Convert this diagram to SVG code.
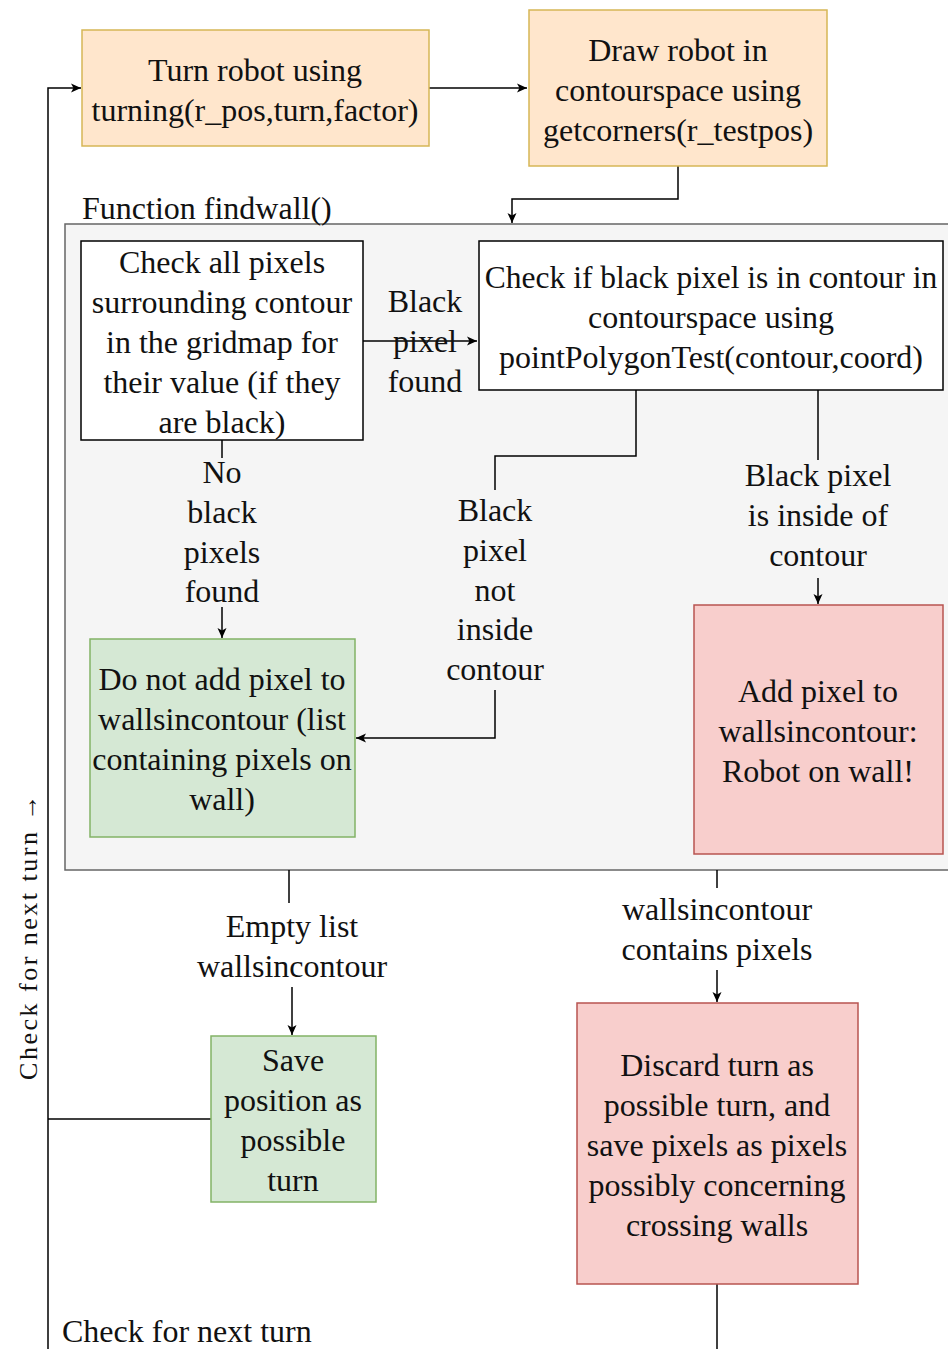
<svg xmlns="http://www.w3.org/2000/svg" width="948" height="1349" viewBox="0 0 948 1349">
<style>
text{font-family:"Liberation Serif","DejaVu Serif",serif;font-size:32px;fill:#111;text-anchor:middle}
.l{text-anchor:start}
.c{fill:none;stroke:#000;stroke-width:1.5}
.orange{fill:#ffe6cc;stroke:#d6b656;stroke-width:1.5}
.green{fill:#d5e8d4;stroke:#82b366;stroke-width:1.5}
.red{fill:#f8cecc;stroke:#b85450;stroke-width:1.5}
.white{fill:#fff;stroke:#000;stroke-width:1.5}
</style>
<defs>
<marker id="a" markerWidth="12" markerHeight="12" refX="11" refY="6" orient="auto" markerUnits="userSpaceOnUse">
<path d="M1,1.5 L11,6 L1,10.5 L3.5,6 Z" fill="#000"/>
</marker>
</defs>
<g id="container">
<rect x="65" y="224" width="890" height="646" fill="#f5f5f5" stroke="#666" stroke-width="1.5"/>
<text class="l" x="82" y="219">Function findwall()</text>
</g>
<g id="connectors">
<path class="c" d="M429,88 H527" stroke="#555" marker-end="url(#a)"/>
<path class="c" d="M678,166 V199 H512 V223" marker-end="url(#a)"/>
<path class="c" d="M363,341 H477" marker-end="url(#a)"/>
<path class="c" d="M222,440 V458"/>
<path class="c" d="M222,607 V638" marker-end="url(#a)"/>
<path class="c" d="M636,390 V456 H495 V490"/>
<path class="c" d="M495,690 V738 H356" marker-end="url(#a)"/>
<path class="c" d="M818,390 V460"/>
<path class="c" d="M818,578 V604" marker-end="url(#a)"/>
<path class="c" d="M289,870 V903"/>
<path class="c" d="M292,987 V1035" marker-end="url(#a)"/>
<path class="c" d="M717,870 V888"/>
<path class="c" d="M717,970 V1002" marker-end="url(#a)"/>
<path class="c" d="M211,1119 H48"/>
<path class="c" d="M48,1349 V88 H81" marker-end="url(#a)"/>
<path class="c" d="M717,1284 V1349"/>
</g>
<g id="labels">
<text x="425" y="312">Black</text>
<text x="425" y="352">pixel</text>
<text x="425" y="392">found</text>
<text x="222" y="483">No</text>
<text x="222" y="523">black</text>
<text x="222" y="563">pixels</text>
<text x="222" y="602">found</text>
<text x="495" y="521">Black</text>
<text x="495" y="561">pixel</text>
<text x="495" y="601">not</text>
<text x="495" y="640">inside</text>
<text x="495" y="680">contour</text>
<text x="818" y="486">Black pixel</text>
<text x="818" y="526">is inside of</text>
<text x="818" y="566">contour</text>
<text x="292" y="937">Empty list</text>
<text x="292" y="977">wallsincontour</text>
<text x="717" y="920">wallsincontour</text>
<text x="717" y="960">contains pixels</text>
<text transform="translate(37,936) rotate(-90)" style="font-size:26px;letter-spacing:2.5px">Check for next turn →</text>
<text class="l" x="62" y="1342">Check for next turn</text>
</g>
<g id="turn">
<rect class="orange" x="82" y="30" width="347" height="116"/>
<text x="255" y="81">Turn robot using</text>
<text x="255" y="121">turning(r_pos,turn,factor)</text>
</g>
<g id="draw">
<rect class="orange" x="529" y="10" width="298" height="156"/>
<text x="678" y="61">Draw robot in</text>
<text x="678" y="101">contourspace using</text>
<text x="678" y="141">getcorners(r_testpos)</text>
</g>
<g id="checkall">
<rect class="white" x="81" y="241" width="282" height="199"/>
<text x="222" y="273">Check all pixels</text>
<text x="222" y="313">surrounding contour</text>
<text x="222" y="353">in the gridmap for</text>
<text x="222" y="393">their value (if they</text>
<text x="222" y="433">are black)</text>
</g>
<g id="checkin">
<rect class="white" x="479" y="241" width="464" height="149"/>
<text x="711" y="288" style="font-size:31.5px">Check if black pixel is in contour in</text>
<text x="711" y="328">contourspace using</text>
<text x="711" y="368">pointPolygonTest(contour,coord)</text>
</g>
<g id="donot">
<rect class="green" x="90" y="639" width="265" height="198"/>
<text x="222" y="690">Do not add pixel to</text>
<text x="222" y="730">wallsincontour (list</text>
<text x="222" y="770">containing pixels on</text>
<text x="222" y="810">wall)</text>
</g>
<g id="add">
<rect class="red" x="694" y="605" width="249" height="249"/>
<text x="818" y="702">Add pixel to</text>
<text x="818" y="742">wallsincontour:</text>
<text x="818" y="782">Robot on wall!</text>
</g>
<g id="save">
<rect class="green" x="211" y="1036" width="165" height="166"/>
<text x="293" y="1071">Save</text>
<text x="293" y="1111">position as</text>
<text x="293" y="1151">possible</text>
<text x="293" y="1191">turn</text>
</g>
<g id="discard">
<rect class="red" x="577" y="1003" width="281" height="281"/>
<text x="717" y="1076">Discard turn as</text>
<text x="717" y="1116">possible turn, and</text>
<text x="717" y="1156">save pixels as pixels</text>
<text x="717" y="1196">possibly concerning</text>
<text x="717" y="1236">crossing walls</text>
</g>
</svg>
